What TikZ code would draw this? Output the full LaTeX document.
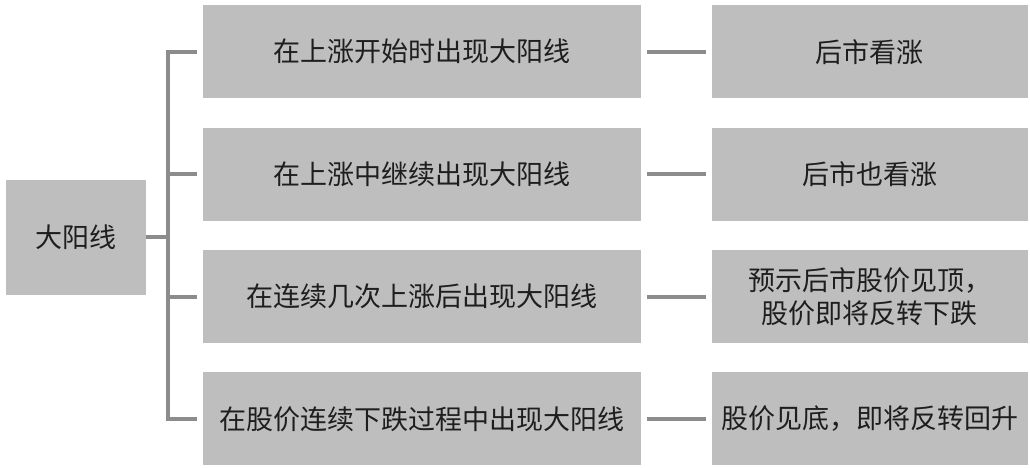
\documentclass[tikz,border=0pt]{standalone}
\usepackage{fontspec}
\newfontfamily\cjk{Noto Sans CJK SC}
\definecolor{boxgray}{RGB}{190, 190, 190}
\definecolor{linegray}{RGB}{140, 140, 140}
\definecolor{textdark}{RGB}{30, 30, 30}
\usepackage{tikz}
\usetikzlibrary{positioning, calc}
\usepackage{xcolor}

\begin{document}
\begin{tikzpicture}[
    node distance=29pt and 70pt,
    box/.style={rectangle, minimum height=93pt, align=center, inner sep=0pt,
                fill=boxgray, text=textdark, font=\cjk\fontsize{27}{33}\selectfont},
    midbox/.style={box, minimum width=438pt},
    resbox/.style={box, minimum width=316pt},
    link/.style={line width=4pt, color=linegray}
  ]
    \useasboundingbox (0pt,0pt) rectangle (1030pt,-467pt);
    % Conditions
    \node[midbox, anchor=north west] (m1) at (203pt,-5pt) {在上涨开始时出现大阳线};
    \node[midbox, below=of m1] (m2) {在上涨中继续出现大阳线};
    \node[midbox, below=of m2] (m3) {在连续几次上涨后出现大阳线};
    \node[midbox, below=of m3] (m4) {在股价连续下跌过程中出现大阳线};
    % Results
    \node[resbox, right=of m1] (r1) {后市看涨};
    \node[resbox, right=of m2] (r2) {后市也看涨};
    \node[resbox, right=of m3] (r3) {预示后市股价见顶，\\股价即将反转下跌};
    \node[resbox, right=of m4] (r4) {股价见底，即将反转回升};
    % Root
    \node[box, minimum width=140pt, minimum height=115pt, anchor=east] (root)
        at ([xshift=-57pt, yshift=-2pt]$(m2.west)!.5!(m3.west)$) {大阳线};

    % Bracket
    \coordinate (t1) at ([xshift=-35pt]m1.west);
    \coordinate (t4) at ([xshift=-35pt]m4.west);
    \draw[link] ([xshift=-6pt]m1.west) -- (t1) -- (t4) -- ([xshift=-6pt]m4.west);
    \draw[link] (t1 |- m2.west) -- ([xshift=-6pt]m2.west);
    \draw[link] (t1 |- m3.west) -- ([xshift=-6pt]m3.west);
    \draw[link] (root.east) -- (t1 |- root.east);

    % Links
    \draw[link] ([xshift=6pt]m1.east) -- ([xshift=-5pt]r1.west);
    \draw[link] ([xshift=6pt]m2.east) -- ([xshift=-5pt]r2.west);
    \draw[link] ([xshift=6pt]m3.east) -- ([xshift=-5pt]r3.west);
    \draw[link] ([xshift=6pt]m4.east) -- ([xshift=-5pt]r4.west);
  \end{tikzpicture}
\end{document}
